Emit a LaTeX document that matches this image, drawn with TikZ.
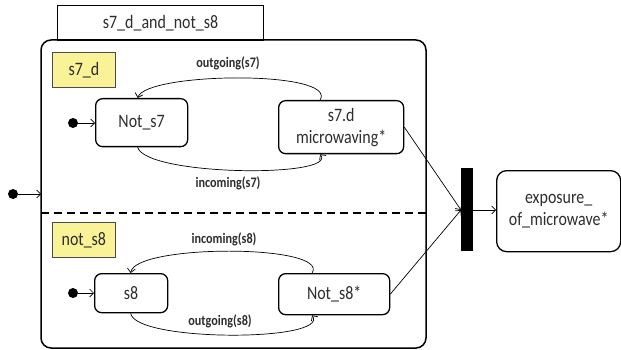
\documentclass[tikz,border=0pt]{standalone}
\usepackage{fontspec}
\setmainfont{Carlito}[FakeStretch=0.84]
\usetikzlibrary{arrows.meta}
\definecolor{notey}{RGB}{250,242,150}
\definecolor{txt}{RGB}{45,45,45}
\begin{document}
\begin{tikzpicture}[x=1pt,y=-1pt,
  statebox/.style={draw,line width=1.3pt,rounded corners=7pt,inner sep=0pt,font=\fontsize{19}{22}\selectfont,text=txt,align=center},
  notebox/.style={draw=black!70,line width=0.7pt,fill=notey,inner sep=0pt,font=\fontsize{19}{22}\selectfont,text=txt},
  lbl/.style={font=\fontsize{14.5}{17}\selectfont\bfseries,text=txt,inner sep=1pt},
  tr/.style={line width=0.7pt,-{Straight Barb[length=4pt,width=8pt]}},
  initdot/.style={circle,fill=black,minimum size=10pt,inner sep=0pt}]
\useasboundingbox (0,0) rectangle (621,350);
% composite
\node[draw,line width=1.2pt,minimum width=206pt,minimum height=35pt,inner sep=0pt,anchor=north west,font=\fontsize{19}{22}\selectfont,text=txt] (tab) at (57,5) {s7\_d\_and\_not\_s8};
\draw[line width=1.5pt,rounded corners=10pt] (41,40) rectangle (426,348);
\coordinate (compL) at (41,194);
\draw[line width=1.5pt,dash pattern=on 8pt off 5pt] (41,213) -- (426,213);
% region labels
\node[notebox,minimum width=63pt,minimum height=35pt,anchor=north west] (r1) at (52,52) {s7\_d};
\node[notebox,minimum width=63pt,minimum height=35pt,anchor=north west] (r2) at (52,222) {not\_s8};
% states
\node[statebox,minimum width=92pt,minimum height=48pt,anchor=north west] (ns7) at (95,98) {Not\_s7};
\node[statebox,minimum width=125pt,minimum height=53pt,anchor=north west] (mw) at (278,100) {s7.d\\microwaving*};
\node[statebox,minimum width=73pt,minimum height=39pt,anchor=north west] (s8) at (94,273) {s8};
\node[statebox,minimum width=111pt,minimum height=41pt,anchor=north west] (ns8) at (278,273) {Not\_s8*};
\node[statebox,minimum width=124pt,minimum height=81pt,rounded corners=10pt,anchor=north west] (exp) at (496,170) {exposure\_\\of\_microwave*};
% fork bar
\node[fill=black,minimum width=12pt,minimum height=83pt,inner sep=0pt,anchor=north west] (bar) at (461,168) {};
% initial dots
\node[initdot] (i0) at (13,194) {};
\node[initdot] (i1) at (73,123) {};
\node[initdot] (i2) at (73,293) {};
\draw[tr] (i0) -- (compL);
\draw[tr] (i1) -- (ns7.west |- i1);
\draw[tr] (i2) -- (s8.west |- i2);
% transitions
\draw[tr] ([xshift=-21pt]mw.north) .. controls (338,70) and (146,72) .. ([xshift=-4pt]ns7.north);
\node[lbl] (l1) at (228,63) {outgoing(s7)};
\draw[tr] ([xshift=-4pt]ns7.south) .. controls (146,176) and (338,178) .. ([xshift=-21pt]mw.south);
\node[lbl] (l2) at (228,183) {incoming(s7)};
\draw[tr] ([xshift=-22pt]ns8.north) .. controls (330,244) and (135,244) .. ([xshift=-0.5pt]s8.north);
\node[lbl] (l3) at (224,239) {incoming(s8)};
\draw[tr] ([xshift=-0.5pt]s8.south) .. controls (135,342) and (330,342) .. ([xshift=-22pt]ns8.south);
\node[lbl] (l4) at (220,321) {outgoing(s8)};
% to fork
\coordinate (barin) at (461,210);
\draw[tr] (mw.east) -- (barin);
\draw[tr] (ns8.east) -- (barin);
\draw[tr] (bar.east |- barin) -- (exp.west |- barin);
\end{tikzpicture}
\end{document}
